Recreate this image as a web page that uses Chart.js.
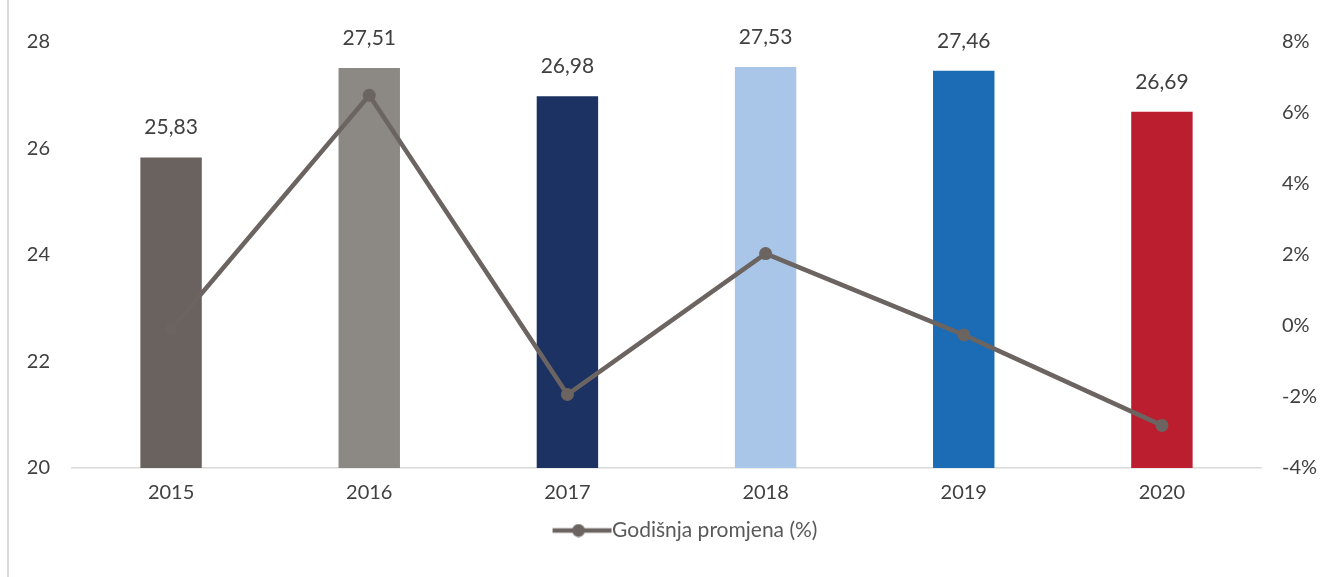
<!DOCTYPE html>
<html><head><meta charset="utf-8">
<script src="https://cdn.jsdelivr.net/npm/chart.js@4/dist/chart.umd.min.js"></script>
<style>html,body{margin:0;padding:0;background:#fff;}#wrap{position:relative;width:1323px;height:577px;}</style>
</head><body><div id="wrap"><canvas id="c" width="1323" height="577"></canvas></div>
<script>
const categories = ["2015","2016","2017","2018","2019","2020"];
const barValues = [25.83, 27.51, 26.98, 27.53, 27.46, 26.69];
const changeValues = [-0.1, 6.5, -1.93, 2.04, -0.25, -2.8];
const barColors = ["#6a625f","#8c8884","#1c3262","#a9c6e8","#1b6bb5","#bb1e2e"];
const lineLabel = "Godišnja promjena (%)";
const FONT = "Lato, 'Open Sans', sans-serif";

// legend marker: line with circle (with transparent left padding to offset legend)
const marker = document.createElement('canvas');
marker.width = 120; marker.height = 14;
(function(){const m=marker.getContext('2d');m.strokeStyle='#6b6461';m.lineWidth=4.5;m.beginPath();m.moveTo(59,7);m.lineTo(118,7);m.stroke();m.fillStyle='#6b6461';m.beginPath();m.arc(85,7,6.5,0,Math.PI*2);m.fill();})();

const extras = {
  id:'extras',
  beforeDraw(chart){
    const ctx=chart.ctx; ctx.save(); ctx.fillStyle='#d9d9d9'; ctx.fillRect(7,0,2,577); ctx.restore();
  },
  afterDatasetsDraw(chart){
    const ctx=chart.ctx; const meta=chart.getDatasetMeta(1);
    ctx.save(); ctx.font='21px '+FONT; ctx.fillStyle='#404040'; ctx.textAlign='center'; ctx.textBaseline='middle';
    meta.data.forEach((bar,i)=>{ ctx.fillText(barValues[i].toFixed(2).replace('.',','), bar.x, bar.y-30); });
    ctx.restore();
  }
};

new Chart(document.getElementById('c'),{
  data:{labels:categories,datasets:[
    {type:'line',label:lineLabel,data:changeValues,yAxisID:'y1',borderColor:'#6b6461',backgroundColor:'#6b6461',borderWidth:4.5,pointRadius:6.5,pointBackgroundColor:'#6b6461',pointBorderWidth:0,pointStyle:'circle',order:0,tension:0},
    {type:'bar',label:'bars',data:barValues,yAxisID:'y',backgroundColor:barColors,barPercentage:0.62,categoryPercentage:0.5,order:1}
  ]},
  options:{
    responsive:false,animation:false,
    layout:{padding:{top:42,bottom:26,left:0,right:0}},
    plugins:{
      legend:{position:'bottom',onClick:null,labels:{usePointStyle:true,pointStyleWidth:96,boxHeight:14,font:{family:FONT,size:21},color:'#595959',padding:2,
        filter:(it)=>it.datasetIndex===0,
        generateLabels:(chart)=>Chart.defaults.plugins.legend.labels.generateLabels(chart).map(l=>Object.assign(l,{pointStyle:marker}))}},
      tooltip:{enabled:false}
    },
    scales:{
      x:{grid:{display:false,drawTicks:false},border:{color:'#d9d9d9',width:1.5},ticks:{color:'#404040',font:{family:FONT,size:20},padding:13}},
      y:{position:'left',min:20,max:28,ticks:{stepSize:2,color:'#404040',font:{family:FONT,size:20},padding:22},grid:{display:false,drawTicks:false},border:{display:false},afterFit(s){s.width=72;}},
      y1:{position:'right',min:-4,max:8,ticks:{stepSize:2,color:'#404040',font:{family:FONT,size:20},padding:21,callback:v=>v+'%'},grid:{display:false,drawTicks:false},border:{display:false},afterFit(s){s.width=62;}}
    }
  },
  plugins:[extras]
});
</script></body></html>
